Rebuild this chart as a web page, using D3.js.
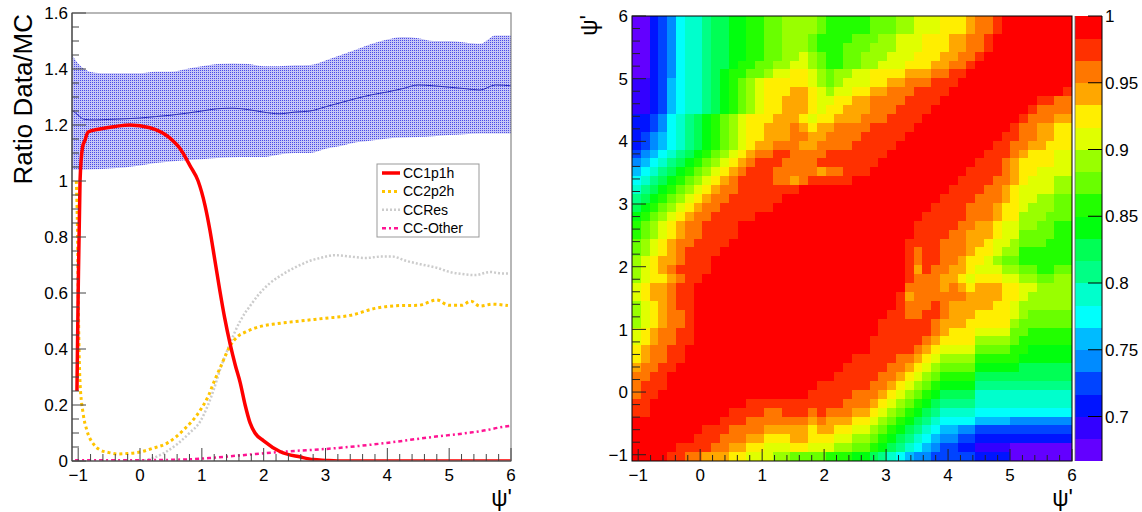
<!DOCTYPE html>
<html><head><meta charset="utf-8">
<script src="https://cdn.jsdelivr.net/npm/d3@7"></script>
<style>body{margin:0;background:#fff}svg{display:block}text{font-family:"Liberation Sans",Arial,Helvetica,sans-serif;fill:#000}</style>
</head><body><svg id="c" width="1142" height="512"></svg>
<script>
// ---------------- DATA ----------------
const bandX   = [-1.1,-1.0,-0.9,-0.73,-0.5,-0.25,0,0.25,0.5,0.75,1.0,1.25,1.5,1.75,2.0,2.25,2.5,2.75,3.0,3.25,3.5,3.75,4.0,4.25,4.5,4.75,5.0,5.25,5.5,5.75,6.0];
const bandHi  = [1.45,1.42,1.40,1.387,1.385,1.385,1.385,1.39,1.39,1.40,1.41,1.418,1.42,1.418,1.41,1.41,1.413,1.414,1.43,1.45,1.47,1.49,1.505,1.514,1.51,1.50,1.50,1.495,1.49,1.52,1.52];
const bandLo  = [1.04,1.04,1.04,1.042,1.045,1.048,1.055,1.064,1.07,1.074,1.078,1.082,1.085,1.086,1.086,1.095,1.10,1.10,1.115,1.125,1.138,1.145,1.152,1.155,1.157,1.16,1.164,1.167,1.17,1.17,1.17];
const bandMid = [1.254,1.235,1.22,1.218,1.22,1.222,1.225,1.23,1.235,1.242,1.25,1.258,1.26,1.255,1.246,1.24,1.246,1.25,1.265,1.28,1.295,1.308,1.318,1.33,1.343,1.34,1.335,1.33,1.325,1.343,1.34];

const cc1p1h = [[-1.02,0.25],[-1.0,0.6],[-0.97,1.0],[-0.93,1.12],[-0.89,1.146],[-0.84,1.175],[-0.65,1.186],[-0.4,1.195],[-0.16,1.2],[0.16,1.19],[0.48,1.154],[0.65,1.115],[0.81,1.054],[0.94,1.0],[1.05,0.914],[1.13,0.825],[1.21,0.718],[1.29,0.61],[1.37,0.51],[1.455,0.42],[1.54,0.343],[1.62,0.28],[1.70,0.2],[1.78,0.136],[1.86,0.1],[2.0,0.072],[2.27,0.033],[2.6,0.014],[2.8,0.005],[3.0,0.002],[3.2,0],[6.0,0]];
const cc2p2h = [[-1.03,1.0],[-1.01,0.8],[-1.0,0.6],[-0.97,0.28],[-0.92,0.17],[-0.86,0.11],[-0.75,0.06],[-0.65,0.04],[-0.5,0.03],[-0.37,0.025],[-0.2,0.027],[0.0,0.032],[0.2,0.045],[0.44,0.064],[0.7,0.11],[0.97,0.18],[1.1,0.23],[1.21,0.29],[1.33,0.35],[1.455,0.41],[1.58,0.445],[1.70,0.46],[1.94,0.48],[2.2,0.49],[2.59,0.5],[3.0,0.51],[3.4,0.52],[3.8,0.545],[4.2,0.555],[4.5,0.556],[4.8,0.575],[5.0,0.556],[5.2,0.556],[5.35,0.571],[5.5,0.553],[5.7,0.56],[5.95,0.555]];
const ccRes  = [[0.0,0.0],[0.2,0.01],[0.4,0.03],[0.6,0.06],[0.8,0.1],[0.97,0.14],[1.1,0.2],[1.2,0.26],[1.3,0.33],[1.42,0.4],[1.62,0.5],[1.8,0.56],[1.94,0.6],[2.1,0.635],[2.26,0.66],[2.45,0.685],[2.59,0.7],[2.75,0.715],[2.91,0.725],[3.15,0.735],[3.4,0.73],[3.65,0.725],[3.9,0.73],[4.08,0.73],[4.3,0.715],[4.53,0.703],[4.8,0.69],[5.01,0.675],[5.2,0.668],[5.42,0.664],[5.66,0.675],[5.85,0.67],[5.98,0.67]];
const ccOther= [[-1.05,0.003],[0,0.003],[0.8,0.006],[1.2,0.012],[1.62,0.02],[2.31,0.033],[3.12,0.045],[3.93,0.063],[4.74,0.086],[5.29,0.1],[5.6,0.11],[5.82,0.12],[5.98,0.125]];
const legendNames = ["CC1p1h","CC2p2h","CCRes","CC-Other"];

const leftYTicks  = [0,0.2,0.4,0.6,0.8,1,1.2,1.4,1.6];
const xTicks      = [-1,0,1,2,3,4,5,6];
const colorTicks  = [0.7,0.75,0.8,0.85,0.9,0.95,1];

// Correlation map, 50x50 bins, top row first; letters A..T = colour level 0..19 (0.667..1.0), run-length coded.
const heatRows = [
"A2 C1 D1 E1 G1 H2 I1 J2 K2 L2 M2 N4 M1 L5 M3 N2 O3 P3 Q1 R2 S1 T8",
"A2 C1 D1 E1 G1 H2 I1 J2 K2 L2 M2 N4 M1 L5 M3 N2 O3 P3 Q1 R2 S1 T8",
"A2 C1 D1 E1 G1 H2 I1 J2 K2 L2 M2 N3 M1 L4 M3 N2 O3 P3 Q2 R2 S1 T9",
"A2 C1 D1 E1 G1 H2 I1 J2 K2 L2 M2 N3 M1 L3 M3 N3 O3 P3 Q2 R2 S1 T9",
"A2 C1 D1 E1 G1 H2 I1 J2 K2 L2 M2 N2 O1 N1 M1 L2 M2 N3 O3 P3 Q2 R2 S1 T10",
"A2 C1 D1 E1 G1 H2 I1 J2 K1 L2 M2 N2 O2 N1 M1 L2 M2 N2 O3 P3 Q2 R2 S1 T11",
"A2 C1 D1 E1 G1 H2 I1 J1 K1 L2 M2 N1 O2 P2 O1 N1 M1 N2 O2 P4 Q3 R2 S2 T12",
"B2 C1 D1 F1 G1 H2 I1 J1 K1 L1 M1 N1 O1 P5 O1 N1 M1 N1 O3 P2 Q2 R3 S3 T13",
"B2 C1 D1 F1 G1 H2 I1 J1 K1 L1 M1 N1 O1 P3 Q2 P1 O1 N1 O2 P2 Q2 R3 S4 T13 S1",
"B2 C1 D1 F1 G1 H2 I1 J1 K1 L1 M1 N1 O1 P2 Q3 P1 O2 P2 Q2 R4 S4 T11 S2 R2",
"B2 C1 D1 F1 G1 H2 I1 J1 K1 L1 M1 N1 O1 P2 Q3 P1 O1 P2 Q3 R3 S4 T11 S1 R4",
"C2 D1 E1 G1 H1 I1 J1 K1 L1 M1 N1 O1 P3 Q3 P1 O1 P2 Q3 R3 S4 T11 S1 R3 Q2",
"C2 D1 E1 G1 H1 I1 J1 K1 L1 M1 N1 O1 P2 Q3 R1 Q1 P1 Q2 R4 S5 T11 S1 R2 Q2 P2",
"C1 D1 E1 F1 G1 H1 I1 J1 K1 L1 M1 N1 O1 P2 Q3 R2 Q2 R4 S5 T11 S2 R2 Q2 P2",
"C1 D1 E1 F1 G1 H1 I1 J1 K1 L1 M1 N1 O1 P1 Q2 R3 Q2 R4 S5 T11 S2 R2 Q2 P3",
"D1 E1 F1 G1 H1 I1 J1 K1 L1 M1 N1 O1 P1 Q1 R2 S2 R4 S7 T11 S3 R1 Q1 P3 O2",
"E1 F1 G1 H1 I1 J1 K1 L1 M1 N1 O1 P1 Q1 R1 S3 R4 S7 T11 S3 R1 Q1 P4 O2",
"F1 G1 H1 I1 J1 K1 L1 M1 N1 O1 P1 Q1 R1 S3 R5 Q1 R2 S3 T11 S4 R1 Q1 P2 O4",
"G1 H1 I1 J1 K1 L1 M1 N1 O1 P1 Q1 R1 S4 R2 Q1 R1 S5 T12 S4 R2 Q1 P1 O3 N2",
"H1 I1 J1 K1 L1 M1 N1 O1 P1 Q1 R2 S7 T17 S4 R2 Q1 P1 O4 N2",
"I1 J1 K1 L1 M1 N1 O1 P1 Q1 R2 S6 T18 S4 R3 Q1 P1 O2 N2 M2",
"J1 K1 L1 M1 N1 O1 P1 Q1 R2 S6 T18 S4 R3 Q1 P2 O1 N3 M2",
"K1 L1 M1 N1 O1 P1 Q1 R2 S5 T19 S5 R3 Q1 P2 N3 M3",
"L1 M1 N1 O1 P1 Q1 R2 S4 T20 S5 R2 Q2 P1 O2 N2 M2 L2",
"L1 M1 N1 O1 P1 Q1 R2 S4 T20 S4 R2 Q3 P1 O2 M4 L2",
"M1 N1 O1 P1 Q1 R2 S4 T20 S4 R3 Q2 P1 O2 N1 M3 L3",
"M1 N1 O1 P1 Q1 R1 S4 T21 S1 R1 S2 R3 Q1 P2 O1 N2 L6",
"N1 O1 P1 Q2 R1 S3 T22 S1 R1 S2 R2 Q1 P2 O1 N1 M2 L6",
"N1 O1 P1 Q1 R1 S4 T22 S1 Q1 S1 R2 Q2 P1 O3 N2 M2 L2 M2",
"N1 O1 P2 Q1 R1 S2 T23 S1 R3 Q2 P1 O1 P3 O2 N2 M2 N2",
"O1 P1 Q2 R1 S2 T24 R4 Q1 R1 Q1 P1 Q3 P2 O2 N4",
"O1 P1 Q2 R1 S2 T23 S1 Q1 R6 Q4 P2 O1 N5",
"N1 O1 P1 Q1 R1 S2 T23 S1 R3 S1 R1 Q5 P2 O1 N6",
"N1 O1 P1 Q1 R2 S1 T22 S2 R2 S2 R1 Q3 P4 O1 N1 M5",
"N1 O1 P1 Q1 R2 S1 T21 S6 R1 Q3 P5 N1 M6",
"O1 P1 Q1 R2 S2 T21 S6 R1 Q1 P3 O4 M2 L5",
"O1 P1 Q1 R2 S2 T20 S6 R1 Q1 P4 N4 M1 L6",
"P1 Q1 R2 S2 T21 S5 R1 Q1 P1 O4 M4 L2 K5",
"P1 Q1 R2 S2 T19 S5 R2 Q1 P1 O1 N4 L5 K6",
"Q1 R2 S2 T19 S5 R2 Q1 P1 O1 N1 M4 K5 J6",
"R2 S2 T19 S5 R2 Q1 P1 O1 N1 M1 L4 J11",
"R1 S3 T17 S6 R2 Q1 P1 O1 N1 M1 L1 K4 I11",
"R1 S2 T17 S5 R3 Q1 P1 O1 N1 M1 L1 K1 J4 H11",
"S2 T11 S11 R3 Q1 P1 O1 N1 M1 L1 K1 J1 I4 H11",
"S2 T9 S4 R2 S3 R1 S1 R3 Q2 P1 O1 N1 M1 L1 K1 J1 I1 H4 G11",
"T10 S3 R7 Q1 R1 Q3 P2 O1 N1 M1 L1 K1 J1 I1 H1 G4 F4 E7",
"T8 S3 R4 Q5 P1 Q2 P2 O2 N1 M1 L1 K1 J1 I1 H1 G1 F2 E2 D11",
"T7 S3 R3 Q2 P3 Q2 P3 O2 N2 M1 L1 K1 J1 I1 H1 G1 F1 E2 D2 C11",
"T5 S4 R2 Q2 P2 O3 P2 O3 N2 M2 L1 K1 J1 I1 H1 G1 F1 E1 D2 C2 B4 A7",
"T4 S2 R2 Q3 P2 O3 N2 M4 L3 K2 J1 I1 H1 G1 F1 E2 D5 C4 A7"
];
const zMin = 2/3, zMax = 1, nLevels = 20, nBins = 50, axMin = -1.1, axMax = 6;

// ---------------- DRAW ----------------
const svg = d3.select("#c");
svg.append("rect").attr("width",1142).attr("height",512).attr("fill","#fff");
const defs = svg.append("defs");
const pat = defs.append("pattern").attr("id","hatch").attr("width",2).attr("height",2).attr("patternUnits","userSpaceOnUse");
pat.append("rect").attr("x",0).attr("y",0).attr("width",2).attr("height",2).attr("fill","#c6c6f6");
pat.append("rect").attr("x",0).attr("y",0).attr("width",1).attr("height",1).attr("fill","#4a4ae6");

// ===== Left panel =====
const L = {x0:72, x1:511, y0:13, y1:461};
const xL = d3.scaleLinear().domain([axMin, axMax]).range([L.x0, L.x1]);
const yL = d3.scaleLinear().domain([0, 1.6]).range([L.y1, L.y0]);
defs.append("clipPath").attr("id","clipL").append("rect").attr("x",L.x0).attr("y",L.y0).attr("width",L.x1-L.x0).attr("height",L.y1-L.y0);
const gL = svg.append("g").attr("clip-path","url(#clipL)");

const band = bandX.map((x,i)=>({x, hi:bandHi[i], lo:bandLo[i], mid:bandMid[i]}));
gL.append("path").datum(band)
  .attr("d", d3.area().x(d=>xL(d.x)).y0(d=>yL(d.lo)).y1(d=>yL(d.hi)).curve(d3.curveMonotoneX))
  .attr("fill","url(#hatch)");
gL.append("path").datum(band)
  .attr("d", d3.line().x(d=>xL(d.x)).y(d=>yL(d.mid)).curve(d3.curveMonotoneX))
  .attr("fill","none").attr("stroke","#2b2bb8").attr("stroke-width",1);

const line = d3.line().x(d=>xL(d[0])).y(d=>yL(d[1])).curve(d3.curveMonotoneX);
const styles = [
  {data:cc1p1h, color:"#ff0000", w:3.5, dash:null},
  {data:cc2p2h, color:"#ffc400", w:3, dash:"3 3"},
  {data:ccRes,  color:"#cccccc", w:2.5, dash:"2 2"},
  {data:ccOther,color:"#ff1493", w:2.5, dash:"4 3 2 3"}
];
[2,1,3,0].forEach(i=>{
  const s = styles[i];
  gL.append("path").datum(s.data).attr("d", line)
    .attr("fill","none").attr("stroke",s.color).attr("stroke-width",s.w)
    .attr("stroke-dasharray",s.dash).attr("stroke-linejoin","round");
});

svg.append("rect").attr("x",L.x0).attr("y",L.y0).attr("width",L.x1-L.x0).attr("height",L.y1-L.y0)
  .attr("fill","none").attr("stroke","#888").attr("stroke-width",1.2);
svg.append("line").attr("x1",L.x0).attr("x2",L.x0).attr("y1",L.y0).attr("y2",L.y1).attr("stroke","#444").attr("stroke-width",1.2);
svg.append("line").attr("x1",L.x0).attr("x2",L.x1).attr("y1",L.y1).attr("y2",L.y1).attr("stroke","#444").attr("stroke-width",1.2);

const fmt = v => (v<0?"\u2212":"") + d3.format("~g")(Math.abs(v));
const gYL = svg.append("g");
d3.range(0, 1.6001, 0.05).forEach(v=>{
  const major = Math.abs(v/0.2 - Math.round(v/0.2))<1e-6;
  gYL.append("line").attr("x1",L.x0).attr("x2",L.x0+(major?14:7)).attr("y1",yL(v)).attr("y2",yL(v)).attr("stroke","#444");
});
leftYTicks.forEach(v=>{
  gYL.append("text").attr("x",L.x0-4).attr("y",yL(v)).attr("dy","0.36em").attr("text-anchor","end").attr("font-size",17).text(fmt(v));
});
const gXL = svg.append("g");
d3.range(-1, 6.0001, 0.2).forEach(v=>{
  const major = Math.abs(v - Math.round(v))<1e-6;
  gXL.append("line").attr("x1",xL(v)).attr("x2",xL(v)).attr("y1",L.y1).attr("y2",L.y1-(major?13:7)).attr("stroke","#444");
});
xTicks.forEach(v=>{
  gXL.append("text").attr("x",xL(v)).attr("y",481).attr("text-anchor","middle").attr("font-size",17).text(fmt(v));
});
svg.append("text").attr("transform","translate(32,14) rotate(-90)").attr("text-anchor","end").attr("font-size",26).text("Ratio Data/MC");
svg.append("text").attr("x",512).attr("y",506).attr("text-anchor","end").attr("font-size",23).text("\u03C8'");

const lg = svg.append("g");
lg.append("rect").attr("x",377).attr("y",164).attr("width",102).attr("height",73).attr("fill","#fff").attr("stroke","#999").attr("stroke-width",1);
legendNames.forEach((n,i)=>{
  const y = 173 + i*18.4, s = styles[i];
  lg.append("line").attr("x1",382).attr("x2",400).attr("y1",y).attr("y2",y)
    .attr("stroke",s.color).attr("stroke-width",s.w).attr("stroke-dasharray",s.dash);
  lg.append("text").attr("x",403).attr("y",y).attr("dy","0.36em").attr("font-size",14).text(n);
});

// ===== Right panel =====
const R = {x0:632, x1:1072, y0:16, y1:461};
const xH = d3.scaleLinear().domain([axMin, axMax]).range([R.x0, R.x1]);
const yH = d3.scaleLinear().domain([axMin, axMax]).range([R.y1, R.y0]);
const bw = (axMax-axMin)/nBins;
const zStep = (zMax-zMin)/nLevels;
const palette = d3.range(nLevels).map(i=>{
  const ci = Math.floor((i+0.99)*50/nLevels);
  const hue = 280 - (ci+1)*(280/50);
  return d3.hsl(hue,1,0.5).formatHex();
});
const zColor = z => palette[Math.max(0, Math.min(nLevels-1, Math.floor((z-zMin)/zStep)))];

const cells = [];
heatRows.forEach((row, r)=>{
  const lv = [];
  row.trim().split(/\s+/).forEach(tok=>{
    const k = tok.charCodeAt(0)-65, n = +tok.slice(1);
    for (let j=0;j<n;j++) lv.push(k);
  });
  while (lv.length<nBins) lv.push(lv[lv.length-1]);
  lv.length = nBins;
  lv.forEach((k,c)=>cells.push({c, r, z: zMin + (k+0.5)*zStep}));
});
svg.append("g").selectAll("rect").data(cells).join("rect")
  .attr("x", d=>xH(axMin + d.c*bw))
  .attr("y", d=>yH(axMax - d.r*bw))
  .attr("width", d=>xH(axMin+(d.c+1)*bw)-xH(axMin+d.c*bw)+0.3)
  .attr("height", d=>yH(axMax-(d.r+1)*bw)-yH(axMax-d.r*bw)+0.3)
  .attr("fill", d=>zColor(d.z)).attr("shape-rendering","crispEdges");

svg.append("rect").attr("x",R.x0).attr("y",R.y0).attr("width",R.x1-R.x0).attr("height",R.y1-R.y0)
  .attr("fill","none").attr("stroke","#000").attr("stroke-width",1);
const gH = svg.append("g");
d3.range(-1, 6.0001, 0.2).forEach(v=>{
  const major = Math.abs(v - Math.round(v))<1e-6;
  gH.append("line").attr("x1",R.x0).attr("x2",R.x0+(major?14:8)).attr("y1",yH(v)).attr("y2",yH(v)).attr("stroke","#222");
  gH.append("line").attr("x1",xH(v)).attr("x2",xH(v)).attr("y1",R.y1).attr("y2",R.y1-(major?12:6)).attr("stroke","#222");
});
xTicks.forEach(v=>{
  gH.append("text").attr("x",xH(v)).attr("y",481).attr("text-anchor","middle").attr("font-size",17).text(fmt(v));
  gH.append("text").attr("x",R.x0-4).attr("y",yH(v)).attr("dy","0.36em").attr("text-anchor","end").attr("font-size",17).text(fmt(v));
});
svg.append("text").attr("x",1073).attr("y",506).attr("text-anchor","end").attr("font-size",23).text("\u03C8'");
svg.append("text").attr("transform","translate(597,15) rotate(-90)").attr("text-anchor","end").attr("font-size",23).text("\u03C8'");

const CB = {x0:1075, x1:1102};
const yC = d3.scaleLinear().domain([zMin, zMax]).range([R.y1, R.y0]);
svg.append("g").selectAll("rect").data(d3.range(nLevels)).join("rect")
  .attr("x",CB.x0).attr("width",CB.x1-CB.x0)
  .attr("y",i=>yC(zMin+(i+1)*zStep)).attr("height",i=>yC(zMin+i*zStep)-yC(zMin+(i+1)*zStep)+0.3)
  .attr("fill",i=>palette[i]).attr("shape-rendering","crispEdges");
svg.append("line").attr("x1",CB.x0).attr("x2",CB.x0).attr("y1",R.y0).attr("y2",R.y1).attr("stroke","#666").attr("stroke-width",0.8);
svg.append("line").attr("x1",CB.x1).attr("x2",CB.x1).attr("y1",R.y0).attr("y2",R.y1).attr("stroke","#000").attr("stroke-width",1);
colorTicks.forEach(v=>{
  svg.append("line").attr("x1",CB.x1).attr("x2",CB.x1-14).attr("y1",yC(v)).attr("y2",yC(v)).attr("stroke","#000");
  svg.append("text").attr("x",CB.x1+3).attr("y",yC(v)).attr("dy","0.36em").attr("font-size",17).text(d3.format("~g")(v));
});
</script></body></html>
